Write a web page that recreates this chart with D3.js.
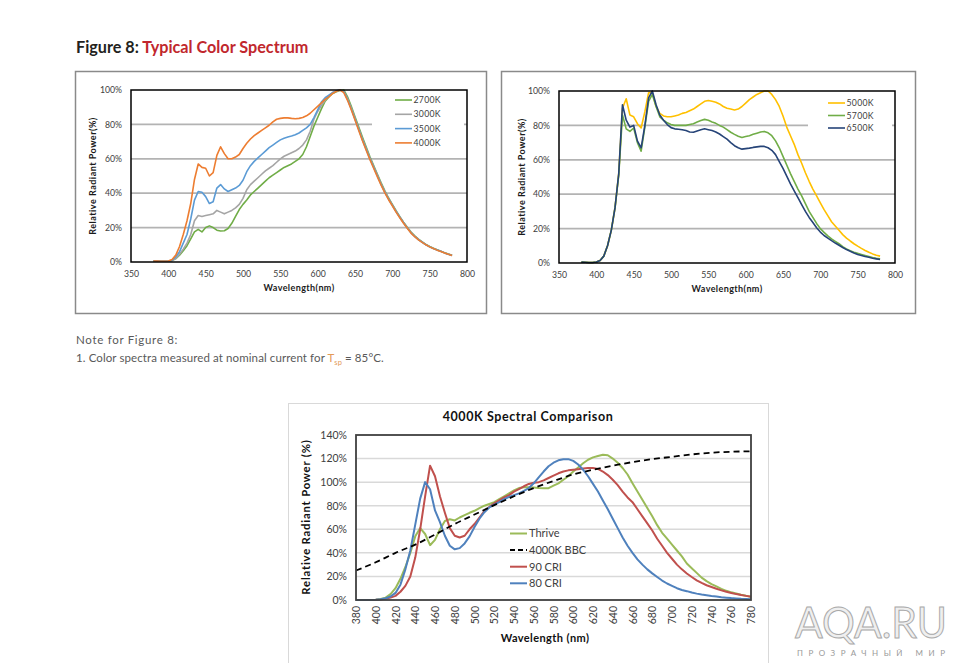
<!DOCTYPE html>
<html><head><meta charset="utf-8">
<script src="https://cdn.jsdelivr.net/npm/d3@7"></script>
<style>
body{margin:0;background:#fff}
svg{display:block}
text{font-family:Lato,"Open Sans",sans-serif}
</style>
</head><body>
<svg id="c" width="957" height="663"></svg>
<script>
// ---------- DATA ----------
const wl = [380,385,390,395,400,405,410,415,420,425,430,435,440,445,450,455,460,465,470,475,480,485,490,495,500,505,510,515,520,525,530,535,540,545,550,555,560,565,570,575,580,585,590,595,600,605,610,615,620,625,630,635,640,645,650,655,660,665,670,675,680,685,690,695,700,705,710,715,720,725,730,735,740,745,750,755,760,765,770,775,780];

// Left chart (warm CCT)
const leftNames = ["2700K","3000K","3500K","4000K"];
const k2700 = [.006,.005,.004,.004,.004,.008,.02,.04,.065,.095, .135,.175,.19,.175,.20,.21,.20,.185,.18,.182, .195,.225,.265,.305,.335,.36,.39,.41,.43,.45, .47,.49,.505,.52,.535,.55,.56,.57,.585,.60, .625,.67,.73,.79,.84,.89,.935,.96,.98,.99, .997,1.0,.96,.905,.845,.785,.725,.668,.612,.56, .51,.46,.414,.372,.335,.298,.264,.232,.202,.174, .152,.133,.117,.102,.09,.08,.071,.062,.054,.046, .039];
const k3000 = [.006,.005,.004,.004,.004,.008,.02,.045,.075,.11, .16,.24,.27,.265,.27,.275,.28,.30,.29,.28, .29,.30,.315,.335,.37,.42,.45,.47,.49,.51, .53,.545,.56,.58,.60,.615,.625,.635,.645,.66, .68,.71,.76,.83,.875,.91,.94,.965,.985,.995, 1.0,.992,.95,.895,.835,.775,.715,.66,.605,.555, .505,.455,.41,.368,.332,.295,.262,.23,.20,.172, .15,.131,.116,.101,.089,.079,.07,.062,.053,.045, .038];
const k3500 = [.006,.005,.004,.004,.004,.01,.03,.06,.11,.16, .25,.36,.41,.405,.38,.34,.35,.43,.45,.425, .41,.42,.43,.445,.475,.525,.56,.585,.605,.625, .645,.665,.68,.695,.71,.72,.727,.733,.74,.75, .765,.78,.80,.84,.885,.93,.955,.97,.985,.995, 1.0,.99,.945,.89,.83,.77,.71,.655,.60,.55, .50,.45,.405,.365,.33,.293,.26,.228,.198,.17, .148,.13,.115,.10,.088,.078,.07,.062,.053,.045, .038];
const k4000 = [.006,.005,.004,.004,.006,.015,.04,.09,.16,.24, .34,.48,.57,.55,.545,.50,.52,.62,.67,.63, .60,.60,.61,.625,.66,.69,.715,.735,.75,.765, .78,.795,.815,.83,.835,.838,.838,.835,.833,.835, .84,.85,.865,.885,.905,.925,.945,.96,.98,.993, 1.0,.985,.94,.885,.825,.765,.705,.65,.595,.545, .495,.447,.402,.362,.327,.29,.257,.225,.196,.168, .147,.129,.114,.10,.088,.078,.069,.061,.053,.045, .038];

// Right chart (cool CCT)
const rightNames = ["5000K","5700K","6500K"];
const k5000 = [.005,.004,.003,.003,.006,.015,.04,.10,.19,.32, .52,.90,.955,.86,.85,.81,.785,.88,.99,.99, .91,.87,.855,.85,.85,.855,.86,.87,.875,.885, .895,.91,.925,.94,.945,.94,.935,.925,.91,.90, .895,.89,.895,.91,.93,.95,.965,.98,.99,1.0, 1.0,.98,.95,.91,.855,.79,.74,.69,.63,.58, .525,.475,.43,.39,.35,.31,.275,.24,.215,.19, .165,.145,.128,.112,.098,.085,.073,.062,.053,.045, .04];
const k5700 = [.005,.004,.003,.003,.006,.015,.04,.10,.19,.32, .51,.86,.78,.765,.785,.70,.65,.79,.94,.98, .91,.85,.83,.815,.805,.80,.80,.80,.80,.805, .81,.82,.828,.835,.83,.82,.812,.80,.79,.775, .76,.748,.737,.73,.735,.74,.748,.755,.762,.765, .757,.74,.71,.67,.62,.57,.52,.475,.43,.39, .345,.30,.265,.23,.20,.178,.158,.14,.126,.112, .095,.082,.072,.063,.056,.05,.044,.038,.032,.027, .024];
const k6500 = [.005,.004,.003,.003,.006,.015,.04,.10,.19,.32, .52,.92,.83,.79,.80,.71,.67,.80,.96,1.0, .92,.86,.83,.805,.787,.78,.778,.775,.77,.762, .76,.768,.775,.78,.775,.77,.762,.75,.735,.72, .70,.682,.67,.662,.665,.668,.672,.675,.678,.678, .67,.655,.63,.59,.55,.505,.46,.42,.38,.34, .30,.265,.235,.205,.18,.16,.145,.13,.116,.103, .09,.078,.068,.058,.05,.044,.038,.033,.028,.024, .02];

// Bottom chart (4000K comparison)
const cmpNames = ["Thrive","4000K BBC","90 CRI","80 CRI"];
const thrive = [0,0,0,.001,.003,.008,.02,.05,.10,.18, .28,.40,.54,.61,.56,.465,.51,.60,.67,.685, .675,.70,.72,.74,.757,.78,.80,.815,.83,.855, .88,.905,.93,.95,.957,.957,.955,.95,.948,.949, .97,.99,1.02,1.05,1.09,1.125,1.16,1.19,1.21,1.222, 1.232,1.228,1.20,1.165,1.12,1.065,.99,.92,.85,.78, .71,.635,.57,.52,.47,.42,.37,.31,.27,.23, .19,.16,.135,.115,.095,.078,.065,.055,.045,.036, .028];
const cri90 = [0,0,0,0,.002,.005,.01,.02,.035,.07, .12,.20,.36,.60,.88,1.14,1.05,.88,.74,.61, .545,.53,.545,.60,.645,.70,.755,.79,.82,.845, .87,.89,.92,.94,.965,.985,.995,1.0,1.015,1.035, 1.055,1.075,1.09,1.10,1.105,1.11,1.115,1.12,1.12,1.112, 1.09,1.06,1.02,.975,.92,.87,.83,.77,.71,.65, .59,.52,.46,.40,.35,.30,.26,.225,.195,.167, .145,.125,.11,.095,.082,.07,.06,.05,.042,.035, .028];
const cri80 = [0,0,0,0,.003,.007,.015,.03,.06,.13, .26,.42,.64,.86,1.0,.94,.76,.66,.545,.46, .43,.44,.48,.54,.62,.69,.745,.785,.81,.83, .855,.875,.89,.905,.925,.95,.99,1.04,1.09,1.135, 1.165,1.185,1.195,1.195,1.18,1.15,1.105,1.05,.985,.92, .845,.77,.69,.61,.53,.46,.40,.345,.30,.26, .226,.195,.165,.14,.12,.10,.085,.075,.063,.054, .046,.04,.034,.029,.024,.02,.016,.013,.01,.008, .006];
const bbcWl = [380,400,420,440,460,480,500,520,540,560,580,600,620,640,660,680,700,720,740,760,780];
const bbc = [.25,.32,.40,.47,.555,.645,.725,.805,.88,.95,1.01,1.065,1.105,1.14,1.17,1.195,1.215,1.235,1.25,1.258,1.262];

const topYTicks = [0,.2,.4,.6,.8,1.0];
const topXTicks = [350,400,450,500,550,600,650,700,750,800];
const cmpYTicks = [0,.2,.4,.6,.8,1.0,1.2,1.4];
const cmpXTicks = [380,400,420,440,460,480,500,520,540,560,580,600,620,640,660,680,700,720,740,760,780];

// ---------- DRAW ----------
const svg = d3.select("#c");
const pct = d3.format(".0%");

// Header
const t = svg.append("text").attr("x",76).attr("y",53).attr("font-size",16.2).attr("font-weight",700);
t.append("tspan").attr("fill","#231f20").text("Figure 8: ");
t.append("tspan").attr("fill","#c1272d").text("Typical Color Spectrum");

function spectrum(cfg){
  const g = svg.append("g");
  g.append("rect").attr("x",cfg.box[0]+.5).attr("y",cfg.box[1]+.5)
    .attr("width",cfg.box[2]-cfg.box[0]).attr("height",cfg.box[3]-cfg.box[1])
    .attr("fill","#fff").attr("stroke","#8a8a8a").attr("stroke-width",1.5);
  const [L,T,R,B] = cfg.plot;
  const x = d3.scaleLinear().domain([350,800]).range([L,R]);
  const y = d3.scaleLinear().domain([0,1]).range([B,T]);
  g.append("g").selectAll("line").data(topYTicks.filter(d=>d>0&&d<1)).join("line")
    .attr("x1",L).attr("x2",R).attr("y1",d=>y(d)).attr("y2",d=>y(d))
    .attr("stroke","#b3b3b3").attr("stroke-width",1.8);
  g.append("rect").attr("x",cfg.leg.bg[0]).attr("y",cfg.leg.bg[1]).attr("width",cfg.leg.bg[2]).attr("height",cfg.leg.bg[3]).attr("fill","#fff");
  const ya = g.append("g").attr("transform",`translate(${L},0)`)
    .call(d3.axisLeft(y).tickValues(topYTicks).tickFormat(pct).tickSize(0).tickPadding(9));
  const xa = g.append("g").attr("transform",`translate(0,${B})`)
    .call(d3.axisBottom(x).tickValues(topXTicks).tickFormat(d3.format("d")).tickSize(0).tickPadding(cfg.xpad));
  [ya,xa].forEach(a=>{a.select(".domain").remove();a.selectAll("text").attr("font-size",8.7).attr("fill","#404040").attr("font-family","Lato,'Open Sans',sans-serif");});
  const line = d3.line().x((d,i)=>x(wl[i])).y(d=>y(d));
  cfg.series.forEach(s=>{
    g.append("path").datum(s.v).attr("d",line).attr("fill","none").attr("stroke",s.c).attr("stroke-width",1.6).attr("stroke-linejoin","round");
  });
  g.append("rect").attr("x",L).attr("y",T).attr("width",R-L).attr("height",B-T).attr("fill","none").attr("stroke","#000").attr("stroke-width",1.5);
  cfg.legOrder.forEach((s,i)=>{
    const yy = cfg.leg.y0 + i*cfg.leg.dy;
    g.append("line").attr("x1",cfg.leg.x1).attr("x2",cfg.leg.x2).attr("y1",yy).attr("y2",yy).attr("stroke",s.c).attr("stroke-width",1.6);
    g.append("text").attr("x",cfg.leg.x2+1.5).attr("y",yy).attr("dy","0.35em").attr("font-size",8.7).attr("letter-spacing",0.3).attr("fill","#404040").text(s.n);
  });
  g.append("text").attr("x",(L+R)/2).attr("y",cfg.xTitleY).attr("text-anchor","middle").attr("font-size",9).attr("letter-spacing",0.4).attr("font-weight",700).attr("fill","#1a1a1a").text("Wavelength(nm)");
  g.append("text").attr("transform",`translate(${cfg.yTitleX},${(T+B)/2}) rotate(-90)`).attr("text-anchor","middle").attr("font-size",9).attr("letter-spacing",0.5).attr("font-weight",700).attr("fill","#1a1a1a").text("Relative Radiant Power(%)");
}

const left = [
  {n:leftNames[0],c:"#70ad47",v:k2700},
  {n:leftNames[1],c:"#a5a5a5",v:k3000},
  {n:leftNames[2],c:"#5b9bd5",v:k3500},
  {n:leftNames[3],c:"#ed7d31",v:k4000}];
spectrum({box:[75,71,486,313],plot:[131,90,467,262],xpad:9,series:left,legOrder:left,
  leg:{bg:[372,93,92,57],x1:395,x2:412,y0:100,dy:14.3},xTitleY:291,yTitleX:96});

const right = [
  {n:rightNames[0],c:"#ffc000",v:k5000},
  {n:rightNames[1],c:"#70ad47",v:k5700},
  {n:rightNames[2],c:"#264478",v:k6500}];
spectrum({box:[501,71,915,313],plot:[559,91,895,263],xpad:9,series:right,legOrder:right,
  leg:{bg:[808,94,84,42],x1:828,x2:845,y0:103,dy:12.5},xTitleY:292,yTitleX:525});

// Note
svg.append("text").attr("x",76).attr("y",344).attr("font-size",11.5).attr("letter-spacing",0.7).attr("fill","#595959").text("Note for Figure 8:");
const n2 = svg.append("text").attr("x",76).attr("y",362).attr("font-size",11.5).attr("letter-spacing",0.1).attr("fill","#595959");
n2.append("tspan").text("1. Color spectra measured at nominal current for ");
n2.append("tspan").attr("fill","#e39a57").text("T");
n2.append("tspan").attr("fill","#e39a57").attr("font-size",7.5).attr("dy",2.5).text("sp");
n2.append("tspan").attr("dy",-2.5).text(" = 85°C.");

// Bottom comparison chart
(function(){
  const g = svg.append("g");
  g.append("rect").attr("x",288.5).attr("y",403.5).attr("width",480).attr("height",300).attr("fill","#fff").attr("stroke","#d9d9d9").attr("stroke-width",1);
  const L=356,T=435,R=751,B=600;
  const x = d3.scaleLinear().domain([380,780]).range([L,R]);
  const y = d3.scaleLinear().domain([0,1.4]).range([B,T]);
  g.append("text").attr("x",528).attr("y",421).attr("text-anchor","middle").attr("font-size",12.5).attr("letter-spacing",0.6).attr("font-weight",700).attr("fill","#111").text("4000K Spectral Comparison");
  g.append("g").selectAll("line").data(cmpYTicks.filter(d=>d>0&&d<1.4)).join("line")
    .attr("x1",L).attr("x2",R).attr("y1",d=>y(d)).attr("y2",d=>y(d)).attr("stroke","#d9d9d9").attr("stroke-width",1.5);
  const ya = g.append("g").attr("transform",`translate(${L},0)`)
    .call(d3.axisLeft(y).tickValues(cmpYTicks).tickFormat(pct).tickSize(0).tickPadding(9));
  const xa = g.append("g").attr("transform",`translate(0,${B})`)
    .call(d3.axisBottom(x).tickValues(cmpXTicks).tickFormat(d3.format("d")).tickSize(0));
  [ya,xa].forEach(a=>{a.select(".domain").remove();a.selectAll("text").attr("font-size",10.5).attr("fill","#404040").attr("font-family","Lato,'Open Sans',sans-serif");});
  xa.selectAll("text").attr("transform","rotate(-90)").attr("text-anchor","end").attr("x",-6).attr("y",0).attr("dy","0.35em");
  const line = d3.line().x((d,i)=>x(wl[i])).y(d=>y(d));
  const ser = [
    {n:cmpNames[0],c:"#9bbb59",v:thrive},
    {n:cmpNames[2],c:"#c0504d",v:cri90},
    {n:cmpNames[3],c:"#4f81bd",v:cri80}];
  ser.forEach(s=>g.append("path").datum(s.v).attr("d",line).attr("fill","none").attr("stroke",s.c).attr("stroke-width",2).attr("stroke-linejoin","round"));
  const bl = d3.line().x((d,i)=>x(bbcWl[i])).y(d=>y(d)).curve(d3.curveMonotoneX);
  g.append("path").datum(bbc).attr("d",bl).attr("fill","none").attr("stroke","#000").attr("stroke-width",1.8).attr("stroke-dasharray","6,4");
  g.append("rect").attr("x",L).attr("y",T).attr("width",R-L).attr("height",B-T).attr("fill","none").attr("stroke","#404040").attr("stroke-width",1.8);
  const leg = [
    {n:cmpNames[0],c:"#9bbb59",d:null},
    {n:cmpNames[1],c:"#000",d:"5,3"},
    {n:cmpNames[2],c:"#c0504d",d:null},
    {n:cmpNames[3],c:"#4f81bd",d:null}];
  leg.forEach((s,i)=>{
    const yy = 533.5 + i*16.6;
    g.append("line").attr("x1",510).attr("x2",527).attr("y1",yy).attr("y2",yy).attr("stroke",s.c).attr("stroke-width",2).attr("stroke-dasharray",s.d);
    g.append("text").attr("x",529).attr("y",yy).attr("dy","0.35em").attr("font-size",11).attr("fill","#404040").text(s.n);
  });
  g.append("text").attr("x",545).attr("y",642).attr("text-anchor","middle").attr("font-size",11).attr("letter-spacing",0.4).attr("font-weight",700).attr("fill","#111").text("Wavelength (nm)");
  g.append("text").attr("transform",`translate(310,517) rotate(-90)`).attr("text-anchor","middle").attr("font-size",11.3).attr("letter-spacing",0.8).attr("font-weight",700).attr("fill","#111").text("Relative Radiant Power (%)");
})();

// Watermark
svg.append("text").attr("x",795).attr("y",638).attr("font-size",42).attr("font-family","'Liberation Sans',sans-serif")
  .attr("textLength",152).attr("lengthAdjust","spacingAndGlyphs")
  .attr("fill","#efefef").attr("stroke","#a9a9a9").attr("stroke-width",1).text("AQA.RU");
svg.append("text").attr("x",797).attr("y",656).attr("font-size",8).attr("font-family","'Liberation Sans',sans-serif")
  .attr("textLength",148).attr("lengthAdjust","spacing").attr("fill","#9a9a9a").text("ПРОЗРАЧНЫЙ МИР");
</script>
</body></html>
